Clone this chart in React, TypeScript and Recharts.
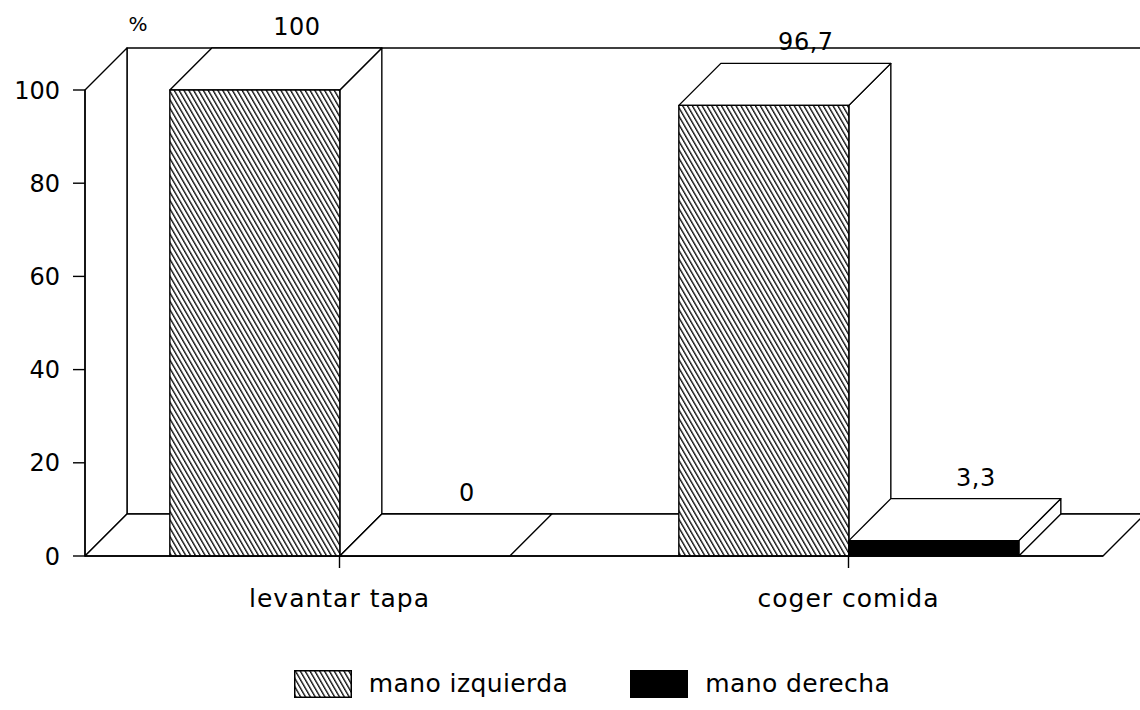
import React from "react";
import { Bar, BarChart, LabelList, Legend, ReferenceArea, XAxis, YAxis } from "recharts";

// Values (percent of trials per hand).
const categories = ["levantar tapa", "coger comida"];
const manoIzquierda = [100, 96.7];
const manoDerecha = [0, 3.3];
const yTicks = [0, 20, 40, 60, 80, 100];
const seriesNames = ["mano izquierda", "mano derecha"];

const data = categories.map((name, i) => ({
  name,
  izq: manoIzquierda[i],
  der: manoDerecha[i],
}));

const FONT = "'DejaVu Sans', sans-serif";
const DEPTH = 42; // 3D offset, px
const LINE = 1.4;

const fmt = (v: unknown) => String(v ?? "").replace(".", ",");

// Back wall, left wall and floor of the 3D box, drawn from the plot area rect.
function Walls(props: any) {
  const { x, y, width, height } = props;
  const L = x;
  const R = x + width;
  const T = y;
  const B = y + height;
  const d = DEPTH;
  return (
    <g stroke="#000" strokeWidth={LINE} fill="#fff" strokeLinejoin="round">
      <polygon points={`${L + d},${T - d} ${R + d + 60},${T - d} ${R + d + 60},${B - d} ${L + d},${B - d}`} />
      <polygon points={`${L},${T} ${L + d},${T - d} ${L + d},${B - d} ${L},${B}`} />
      <polygon points={`${L},${B} ${L + d},${B - d} ${R + d},${B - d} ${R},${B}`} />
    </g>
  );
}

function Bar3D(props: any) {
  const { x, y, width, height, fill } = props;
  const d = DEPTH;
  const top = y;
  const bottom = y + height;
  const right = x + width;
  return (
    <g stroke="#000" strokeWidth={LINE} strokeLinejoin="round">
      {height > 0 && (
        <polygon
          points={`${right},${top} ${right + d},${top - d} ${right + d},${bottom - d} ${right},${bottom}`}
          fill="#fff"
        />
      )}
      <polygon
        points={`${x},${top} ${x + d},${top - d} ${right + d},${top - d} ${right},${top}`}
        fill="#fff"
      />
      {height > 0 && <rect x={x} y={top} width={width} height={height} fill={fill} />}
    </g>
  );
}

function ValueLabel(props: any) {
  const { x, y, width, value } = props;
  return (
    <text
      x={x + width / 2 + DEPTH}
      y={y - DEPTH - 13}
      textAnchor="middle"
      fontFamily={FONT}
      fontSize={24}
      letterSpacing={0.5}
      fill="#000"
    >
      {fmt(value)}
    </text>
  );
}

function PctLabel(props: any) {
  const vb = props.viewBox ?? {};
  return (
    <text x={vb.x + vb.width + 53} y={vb.y - 59} textAnchor="middle" fontFamily={FONT} fontSize={20} fill="#000">
      %
    </text>
  );
}

function HatchDef({ id }: { id: string }) {
  return (
    <pattern id={id} patternUnits="userSpaceOnUse" width={4.2} height={12} patternTransform="rotate(-30)">
      <rect width={4.2} height={12} fill="#fff" />
      <line x1={0.7} y1={0} x2={0.7} y2={12} stroke="#000" strokeWidth={1.3} />
    </pattern>
  );
}

function LegendContent(props: any) {
  const payload = [...(props.payload ?? [])].sort(
    (a: any, b: any) => seriesNames.indexOf(a.value) - seriesNames.indexOf(b.value)
  );
  return (
    <div
      style={{
        display: "flex",
        justifyContent: "center",
        alignItems: "center",
        fontFamily: FONT,
        fontSize: 25,
        letterSpacing: 0.4,
        color: "#000",
        paddingLeft: 44,
      }}
    >
      {payload.map((p: any, i: number) => (
        <div key={p.value} style={{ display: "flex", alignItems: "center", marginLeft: i ? 62 : 0 }}>
          <svg width={58} height={28} style={{ display: "block" }}>
            <defs>
              <HatchDef id="legend-hatch" />
            </defs>
            <rect
              x={0.75}
              y={0.75}
              width={56.5}
              height={26.5}
              fill={String(p.color).startsWith("url") ? "url(#legend-hatch)" : "#000"}
              stroke="#000"
              strokeWidth={1.5}
            />
          </svg>
          <span style={{ marginLeft: 17 }}>{p.value}</span>
        </div>
      ))}
    </div>
  );
}

export default function App() {
  const tick = { fontSize: 24, fill: "#000", fontFamily: FONT };
  const xTick = { fontSize: 25, fill: "#000", fontFamily: FONT, letterSpacing: 1 };
  const axisLine = { stroke: "#000", strokeWidth: LINE };
  return (
    <div style={{ position: "absolute", left: 0, top: 0, width: 1140, height: 710, background: "#fff" }}>
      <BarChart
        width={1140}
        height={710}
        data={data}
        margin={{ top: 90, right: 37, bottom: 114, left: 0 }}
        barCategoryGap="16.667%"
        barGap={0}
      >
        <defs>
          <HatchDef id="hatch" />
        </defs>
        <ReferenceArea y1={0} y2={100} ifOverflow="visible" shape={<Walls />} />
        <XAxis
          dataKey="name"
          height={40}
          tick={xTick}
          tickLine={axisLine}
          axisLine={axisLine}
          tickSize={12}
          tickMargin={21}
        />
        <YAxis
          width={85}
          domain={[0, 100]}
          ticks={yTicks}
          tick={tick}
          tickLine={axisLine}
          axisLine={axisLine}
          tickSize={12}
          tickMargin={13}
          label={{ value: "%", content: <PctLabel /> }}
        />
        <Legend
          verticalAlign="middle"
          align="center"
          layout="horizontal"
          wrapperStyle={{ top: 669, left: 0, width: 1140 }}
          content={<LegendContent />}
        />
        <Bar dataKey="izq" name={seriesNames[0]} fill="url(#hatch)" shape={<Bar3D />} isAnimationActive={false}>
          <LabelList dataKey="izq" content={<ValueLabel />} />
        </Bar>
        <Bar dataKey="der" name={seriesNames[1]} fill="#000" shape={<Bar3D />} isAnimationActive={false}>
          <LabelList dataKey="der" content={<ValueLabel />} />
        </Bar>
      </BarChart>
    </div>
  );
}
